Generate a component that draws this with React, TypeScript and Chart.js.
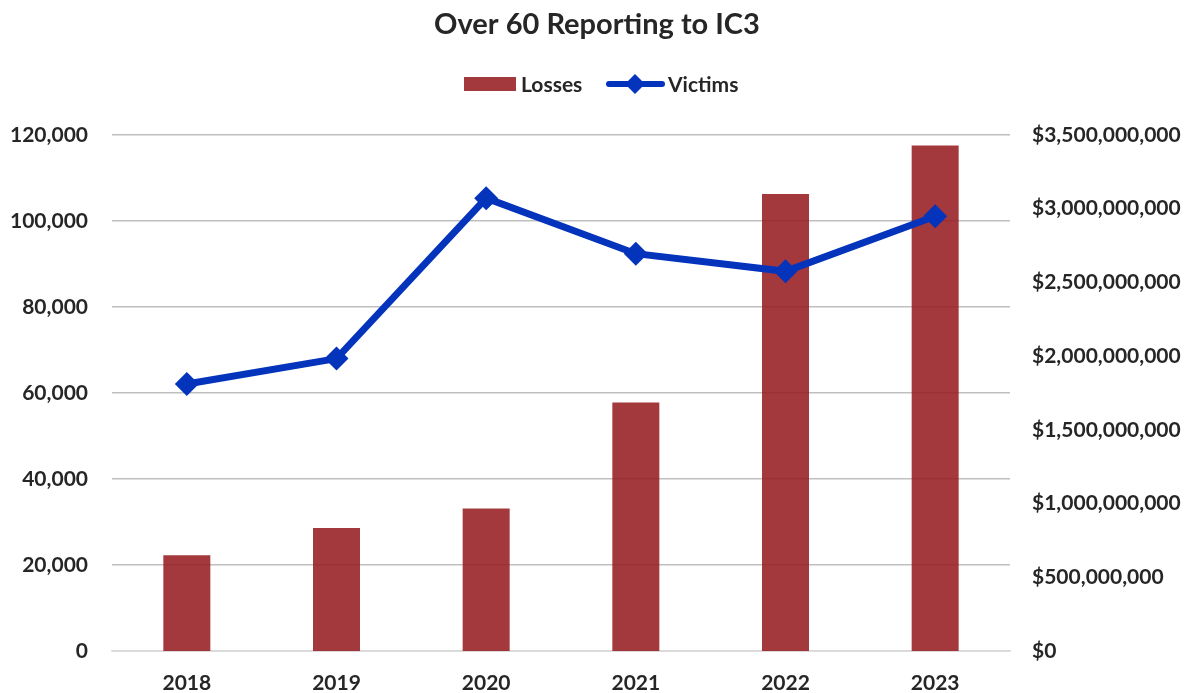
import React, { useEffect, useRef } from "react";
import { Chart, registerables } from "chart.js";

Chart.register(...registerables);

const years = ["2018", "2019", "2020", "2021", "2022", "2023"];
const losses = [649000000, 835000000, 966000000, 1685000000, 3100000000, 3428000000];
const victims = [62100, 68000, 105300, 92400, 88300, 101100];
const title = "Over 60 Reporting to IC3";

const FONT = "Lato";
const TEXT = "#262626";
const BAR = "rgba(150,30,33,0.88)";
const LINE = "#0433BC";

const overlay = {
  id: "overlay",
  afterDraw(chart: any) {
    const ctx = chart.ctx;
    ctx.save();
    ctx.fillStyle = TEXT;
    ctx.textBaseline = "middle";
    ctx.textAlign = "center";
    ctx.font = `bold 29px ${FONT}`;
    ctx.fillText(title, 597, 25);
    const ds = chart.data.datasets;
    ctx.font = `bold 21px ${FONT}`;
    ctx.textAlign = "left";
    const y = 84;
    ctx.fillStyle = ds[1].backgroundColor;
    ctx.fillRect(464, y - 7, 52, 14);
    ctx.fillStyle = TEXT;
    ctx.fillText(ds[1].label, 521, y + 1);
    ctx.strokeStyle = ds[0].borderColor;
    ctx.lineWidth = 6;
    ctx.lineCap = "round";
    ctx.beginPath();
    ctx.moveTo(609, y);
    ctx.lineTo(662, y);
    ctx.stroke();
    ctx.fillStyle = ds[0].borderColor;
    ctx.beginPath();
    ctx.moveTo(635, y - 10);
    ctx.lineTo(645, y);
    ctx.lineTo(635, y + 10);
    ctx.lineTo(625, y);
    ctx.closePath();
    ctx.fill();
    ctx.fillStyle = TEXT;
    ctx.fillText(ds[0].label, 668, y + 1);
    ctx.restore();
  },
};

export default function App() {
  const ref = useRef<HTMLCanvasElement>(null);
  useEffect(() => {
    document.body.style.margin = "0";
    const chart = new Chart(ref.current!, {
      type: "bar",
      data: {
        labels: years,
        datasets: [
          {
            type: "line",
            label: "Victims",
            data: victims,
            yAxisID: "y",
            borderColor: LINE,
            backgroundColor: LINE,
            borderWidth: 7,
            pointStyle: "rectRot",
            pointRadius: 12,
            pointBackgroundColor: LINE,
            pointBorderColor: LINE,
            pointBorderWidth: 0,
            tension: 0,
            order: 0,
          } as any,
          {
            type: "bar",
            label: "Losses",
            data: losses,
            yAxisID: "y1",
            backgroundColor: BAR,
            borderWidth: 0,
            barPercentage: 1,
            categoryPercentage: 0.314,
            order: 1,
          },
        ],
      },
      options: {
        animation: false,
        responsive: true,
        maintainAspectRatio: false,
        layout: { padding: { top: 135, bottom: 0, left: 0, right: 0 } },
        plugins: {
          legend: { display: false },
          title: { display: false },
          tooltip: { enabled: false },
        },
        scales: {
          x: {
            afterFit: (s: any) => {
              s.height = 42;
            },
            grid: { display: false, drawTicks: false },
            border: { display: true, color: "#d9d9d9", width: 1.5 },
            ticks: {
              color: TEXT,
              font: { family: FONT, size: 21, weight: "bold" },
              padding: 20,
            },
          },
          y: {
            position: "left",
            min: 0,
            max: 120000,
            afterFit: (s: any) => {
              s.width = 112;
            },
            grid: { color: "#bfbfbf", lineWidth: 1.5, drawTicks: false },
            border: { display: false },
            ticks: {
              stepSize: 20000,
              color: TEXT,
              padding: 24,
              font: { family: FONT, size: 21, weight: "bold" },
              callback: (v: any) => Number(v).toLocaleString("en-US"),
            },
          },
          y1: {
            position: "right",
            min: 0,
            max: 3500000000,
            afterFit: (s: any) => {
              s.width = 185;
            },
            grid: { display: false, drawTicks: false },
            border: { display: false },
            ticks: {
              stepSize: 500000000,
              color: TEXT,
              padding: 22,
              font: { family: FONT, size: 21, weight: "bold" },
              callback: (v: any) => "$" + Number(v).toLocaleString("en-US"),
            },
          },
        },
      },
      plugins: [overlay],
    });
    return () => chart.destroy();
  }, []);
  return (
    <div style={{ width: 1195, height: 693, position: "relative" }}>
      <canvas ref={ref} />
    </div>
  );
}
